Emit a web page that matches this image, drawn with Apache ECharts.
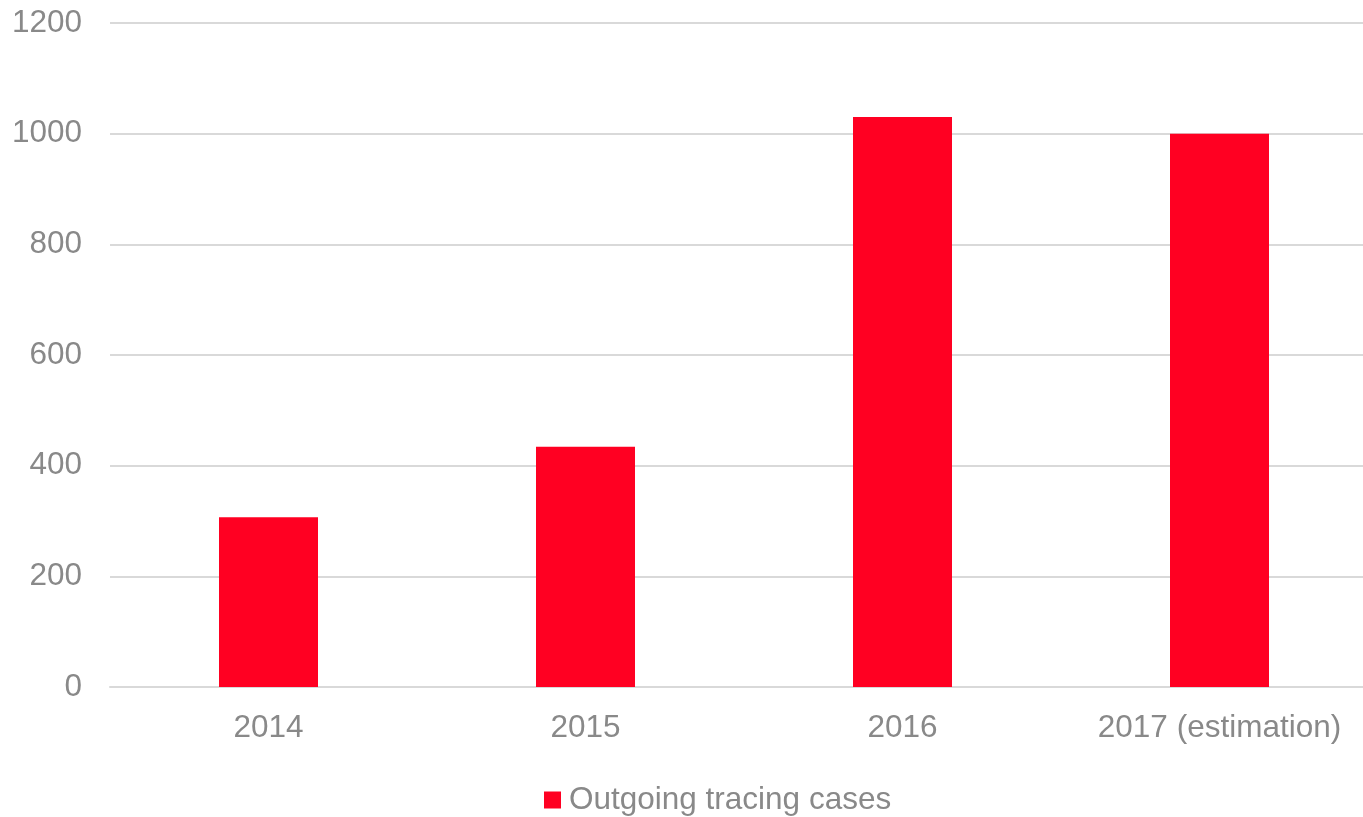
<!DOCTYPE html>
<html>
<head>
<meta charset="utf-8">
<script src="https://cdn.jsdelivr.net/npm/echarts@6/dist/echarts.min.js"></script>
<style>html,body{margin:0;padding:0;background:#fff;overflow:hidden;width:1363px;height:817px}#c{width:1378px;height:817px}</style>
</head>
<body>
<div id="c"></div>
<script>
const categories = ["2014", "2015", "2016", "2017 (estimation)"];
const seriesName = "Outgoing tracing cases";
const values = [307, 434, 1030, 1000];
const yTicks = { min: 0, max: 1200, interval: 200 };

const chart = echarts.init(document.getElementById('c'), null, { renderer: 'canvas' });
const font = '"Liberation Sans", Arial, sans-serif';
chart.setOption({
  animation: false,
  grid: { left: 110, right: 0, top: 23, bottom: 130, containLabel: false },
  legend: {
    data: [seriesName], top: 779, left: 539,
    itemWidth: 17, itemHeight: 17, itemGap: 8,
    icon: 'rect',
    textStyle: { fontFamily: font, fontSize: 31.5, color: '#898989', padding: [0, 0, 0, 3] }
  },
  xAxis: {
    type: 'category', data: categories,
    axisLine: { show: true, lineStyle: { color: '#d9d9d9', width: 2 } },
    axisTick: { show: false },
    axisLabel: { fontFamily: font, fontSize: 31.5, color: '#898989', margin: 25, interval: 0 }
  },
  yAxis: {
    type: 'value', min: yTicks.min, max: yTicks.max, interval: yTicks.interval,
    axisLine: { show: false }, axisTick: { show: false },
    splitLine: { lineStyle: { color: '#d9d9d9', width: 2 } },
    axisLabel: { fontFamily: font, fontSize: 31.5, color: '#898989', margin: 28, formatter: v => String(v) }
  },
  series: [{
    name: seriesName, type: 'bar', data: values, barWidth: 99,
    itemStyle: { color: '#ff0022' }
  }]
});
</script>
</body>
</html>
